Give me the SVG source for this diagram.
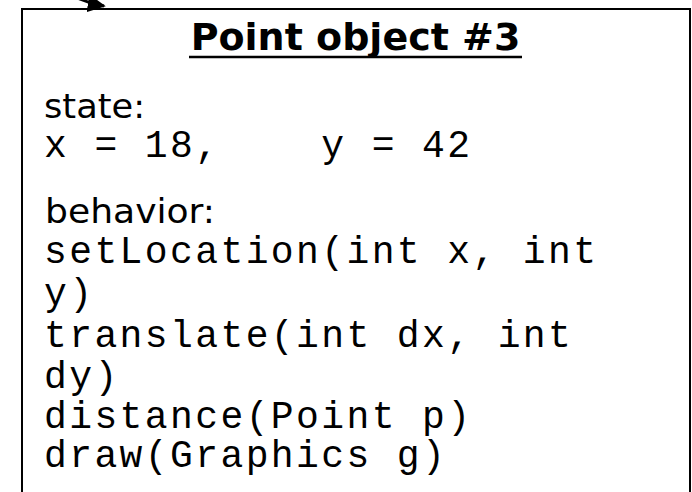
<svg xmlns="http://www.w3.org/2000/svg" width="692" height="492" viewBox="0 0 692 492">
  <style>
    .box { fill: #ffffff; stroke: #000000; stroke-width: 2; }
    .title { font-family: "DejaVu Sans", Verdana, sans-serif; font-weight: bold; font-size: 38px; fill: #000; }
    .label { font-family: "DejaVu Sans", Verdana, sans-serif; font-size: 34px; fill: #000; }
    .mono { font-family: "Liberation Mono", "Courier New", monospace; font-size: 38px; letter-spacing: 2.4px; fill: #000; }
    .conn { fill: none; stroke: #000; stroke-width: 3; }
  </style>
  <defs>
    <marker id="arrow" viewBox="0 0 10 10" refX="9" refY="5" markerWidth="6" markerHeight="6" orient="auto" markerUnits="strokeWidth">
      <path d="M0,0 L10,5 L0,10 z" fill="#000"/>
    </marker>
  </defs>
  <rect width="692" height="492" fill="#ffffff"/>
  <g id="point-object">
    <rect class="box" x="22" y="9" width="668" height="500"/>
    <text class="title" x="355.5" y="50" text-anchor="middle">Point object #3</text>
    <line x1="189" y1="57" x2="522" y2="57" stroke="#000" stroke-width="2.5"/>
    <text class="label" x="44" y="118" textLength="101" lengthAdjust="spacingAndGlyphs">state:</text>
    <text class="mono" x="44" y="157" xml:space="preserve">x = 18,    y = 42</text>
    <text class="label" x="45" y="223" textLength="170" lengthAdjust="spacingAndGlyphs">behavior:</text>
    <text class="mono" x="44" y="263">setLocation(int x, int</text>
    <text class="mono" x="44" y="305">y)</text>
    <text class="mono" x="44" y="347">translate(int dx, int</text>
    <text class="mono" x="44" y="388">dy)</text>
    <text class="mono" x="44" y="428">distance(Point p)</text>
    <text class="mono" x="44" y="467">draw(Graphics g)</text>
  </g>
  <g id="connectors">
    <path class="conn" d="M60,-12 Q80,2 104,6" marker-end="url(#arrow)"/>
  </g>
</svg>
